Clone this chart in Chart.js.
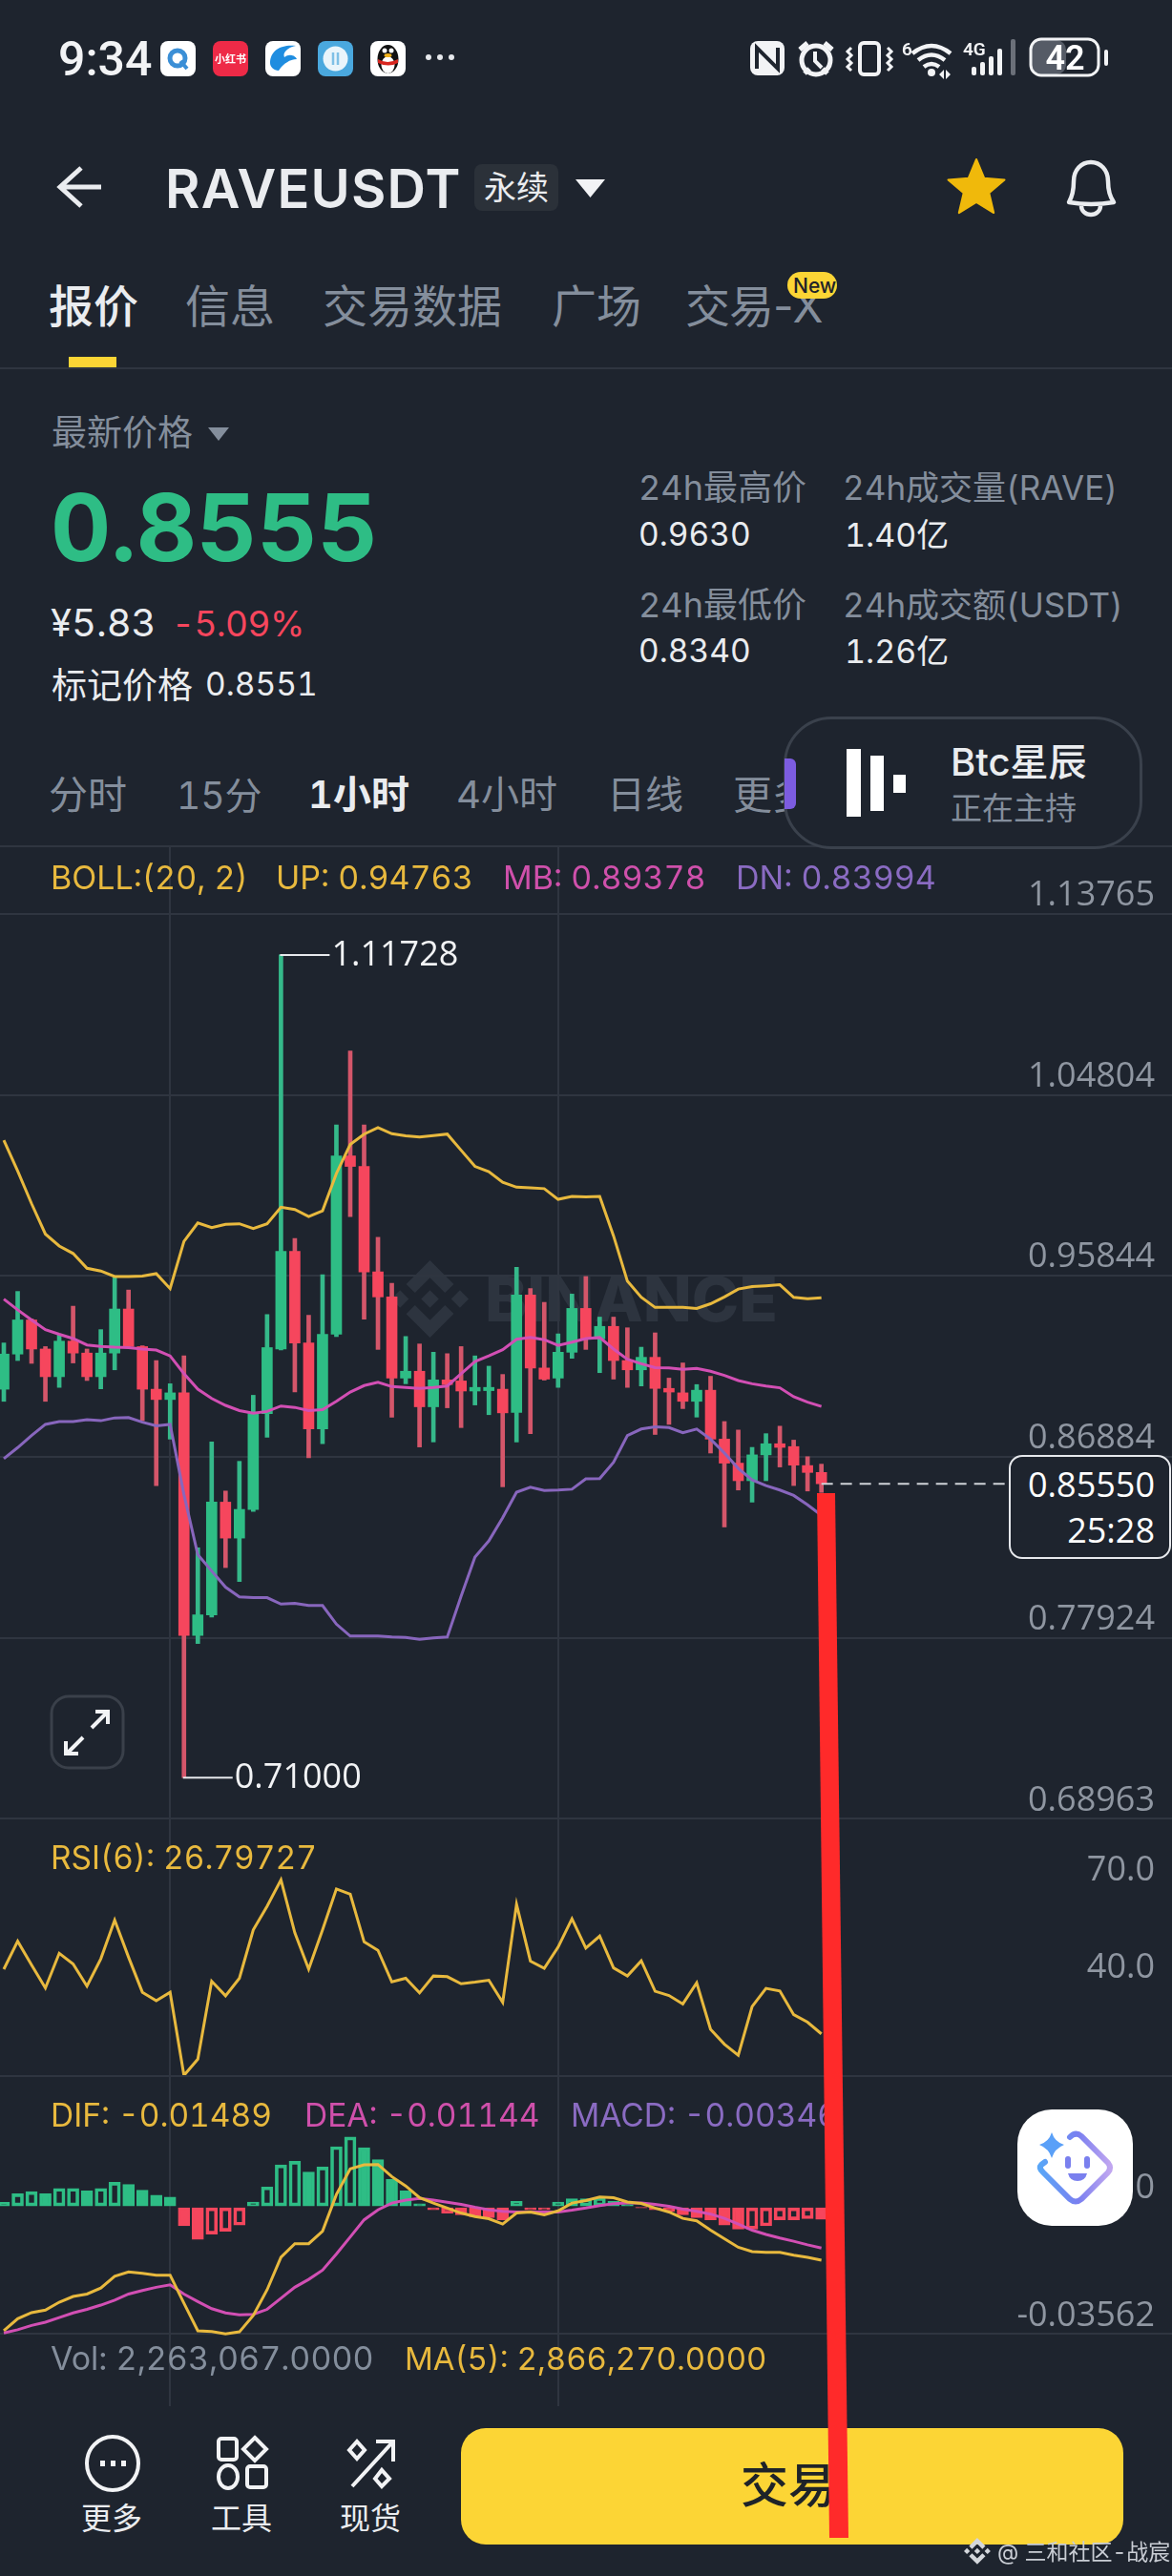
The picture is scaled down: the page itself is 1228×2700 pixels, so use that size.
<!DOCTYPE html>
<html lang="zh">
<head>
<meta charset="utf-8">
<title>RAVEUSDT</title>
<script src="https://cdn.jsdelivr.net/npm/chart.js@4"></script>
<style>
html,body{margin:0;padding:0;background:#1e242e;}
body{position:relative;width:1228px;height:2700px;overflow:hidden;font-family:Inter,"Noto Sans CJK SC",sans-serif;color:#eaecef;font-variant-numeric:tabular-nums;}
canvas{position:absolute;left:0;z-index:2;}
.t{position:absolute;white-space:nowrap;line-height:1;transform:translateY(-50%);z-index:3;}
.g{color:#848e9c;}
.box{position:absolute;z-index:3;box-sizing:border-box;}
svg{position:absolute;left:0;top:0;}
.tag{font-family:"Open Sans";font-size:36px;}
</style>
</head>
<body>
<svg id="under" width="1228" height="2700" style="z-index:1">
  <g fill="#2d343f" transform="translate(410 1321) scale(0.64)">
    <path d="M38.73 53.2L63.3 28.63 87.89 53.22 102.19 38.92 63.3 0 24.42 38.9z"/>
    <path d="M0 63.31L14.3 49.01 28.6 63.31 14.3 77.61z"/>
    <path d="M38.73 73.41L63.3 97.98 87.89 73.39 102.2 87.68 63.3 126.61 24.42 87.7z"/>
    <path d="M98.01 63.31L112.31 49.01 126.61 63.31 112.31 77.61z"/>
    <path d="M77.83 63.3L63.3 48.78 48.78 63.3 63.3 77.83z"/>
  </g>
  <text x="508" y="1385" font-family="Inter" font-weight="800" font-size="65" fill="#2d343f" textLength="307" lengthAdjust="spacingAndGlyphs">BINANCE</text>
  <line x1="0" x2="1228" y1="386" y2="386" stroke="#2f3540" stroke-width="2"/>
  <line x1="0" x2="1228" y1="887" y2="887" stroke="#2f3540" stroke-width="2"/>
</svg>

<!-- status bar -->
<div class="t" style="left:61px;top:62px;font:500 50px Roboto;color:#f2f3f5;">9:34</div>
<!-- nav -->
<div class="t" style="left:173px;top:198px;font-size:56px;font-weight:600;letter-spacing:1.2px;">RAVEUSDT</div>
<div class="box" style="left:497px;top:172px;width:88px;height:49px;background:#2b3139;border-radius:8px;"></div>
<div class="t" style="left:507px;top:197px;font-size:34px;">永续</div>
<!-- tabs -->
<div class="t" style="left:51px;top:320px;font-size:47px;font-weight:500;">报价</div>
<div class="t g" style="left:194px;top:320px;font-size:47px;">信息</div>
<div class="t g" style="left:338px;top:320px;font-size:47px;">交易数据</div>
<div class="t g" style="left:578px;top:320px;font-size:47px;">广场</div>
<div class="t g" style="left:718px;top:320px;font-size:47px;font-variant-numeric:normal;letter-spacing:-1px;">交易-X</div>
<div class="box" style="left:825px;top:285px;width:52px;height:28px;background:#fcd535;border-radius:14px;"></div>
<div class="t" style="left:831px;top:299px;font-size:21px;font-weight:500;color:#1e2329;">New</div>
<div class="box" style="left:72px;top:374px;width:50px;height:11px;background:#fcd535;"></div>
<!-- price block -->
<div class="t g" style="left:54px;top:453px;font-size:37px;">最新价格</div>
<div class="t" style="left:53px;top:553px;font-size:98px;font-weight:700;color:#2ebd85;">0.8555</div>
<div class="t" style="left:53px;top:653px;font-size:40px;">¥5.83</div>
<div class="t" style="left:180px;top:653px;font-size:37px;letter-spacing:-0.6px;color:#f6465d;">-5.09%</div>
<div class="t" style="left:54px;top:718px;font-size:37px;">标记价格</div>
<div class="t" style="left:215px;top:718px;font-size:33.500px;">0.8551</div>
<div class="t g" style="left:669px;top:511px;font-size:36px;">24h最高价</div>
<div class="t" style="left:669px;top:561px;font-size:33.500px;">0.9630</div>
<div class="t g" style="left:883px;top:511px;font-size:35px;">24h成交量(RAVE)</div>
<div class="t" style="left:885px;top:561px;font-size:34px;">1.40亿</div>
<div class="t g" style="left:669px;top:634px;font-size:36px;">24h最低价</div>
<div class="t" style="left:669px;top:683px;font-size:33.500px;">0.8340</div>
<div class="t g" style="left:883px;top:634px;font-size:35px;">24h成交额(USDT)</div>
<div class="t" style="left:885px;top:683px;font-size:34px;">1.26亿</div>
<!-- interval tabs -->
<div class="t g" style="left:51px;top:833px;font-size:41px;">分时</div>
<div class="t g" style="left:185px;top:833px;font-size:39px;">15分</div>
<div class="t" style="left:323px;top:833px;font-size:40px;font-weight:600;">1小时</div>
<div class="t g" style="left:478px;top:833px;font-size:40px;">4小时</div>
<div class="t g" style="left:636px;top:833px;font-size:40px;">日线</div>
<div class="t g" style="left:768px;top:833px;font-size:41px;">更多</div>
<!-- floating host card -->
<div class="box" style="left:821px;top:751px;width:376px;height:139px;background:#1e242e;border:3px solid #3a414c;border-radius:50px;z-index:4;"></div>
<div class="box" style="left:822px;top:795px;width:12px;height:53px;background:#7c5ce0;border-radius:0 6px 6px 0;z-index:5;"></div>
<div class="box" style="left:887px;top:785px;width:15px;height:71px;background:#fff;z-index:5;"></div>
<div class="box" style="left:912px;top:792px;width:14px;height:58px;background:#fff;z-index:5;"></div>
<div class="box" style="left:936px;top:812px;width:13px;height:19px;background:#fff;z-index:5;"></div>
<div class="t" style="left:996px;top:799px;font-size:40px;font-weight:500;z-index:5;">Btc星辰</div>
<div class="t g" style="left:996px;top:847px;font-size:33px;z-index:5;">正在主持</div>
<!-- legends -->
<div class="t" style="left:53px;top:920px;font-size:34px;color:#e8b93e;">BOLL:(20, 2)</div>
<div class="t" style="left:289px;top:920px;font-size:34px;color:#e8b93e;">UP: 0.94763</div>
<div class="t" style="left:527px;top:920px;font-size:34px;color:#cf50ab;">MB: 0.89378</div>
<div class="t" style="left:771px;top:920px;font-size:34px;color:#8a6bc2;">DN: 0.83994</div>
<div class="t" style="left:53px;top:1948px;font-size:33.500px;color:#e8b93e;">RSI(6): 26.79727</div>
<div class="t" style="left:53px;top:2218px;font-size:33.500px;color:#e8b93e;">DIF: -0.01489</div>
<div class="t" style="left:319px;top:2218px;font-size:33.500px;color:#cf50ab;">DEA: -0.01144</div>
<div class="t" style="left:598px;top:2218px;font-size:33.500px;color:#8a6bc2;">MACD: -0.00346</div>
<div class="t g" style="left:53px;top:2472px;font-size:34px;">Vol: 2,263,067.0000</div>
<div class="t" style="left:424px;top:2472px;font-size:33px;color:#e8b93e;">MA(5): 2,866,270.0000</div>
<!-- price tag -->
<div class="box" style="left:1057px;top:1525px;width:170px;height:109px;background:#1e242e;border:2px solid #e6e8ec;border-radius:14px;z-index:4;"></div>
<div class="t tag" style="right:18px;top:1556px;color:#fff;z-index:5;">0.85550</div>
<div class="t tag" style="right:18px;top:1604px;color:#fff;z-index:5;">25:28</div>
<!-- bottom bar -->
<div class="t" style="left:85px;top:2640px;font-size:32px;">更多</div>
<div class="t" style="left:221px;top:2640px;font-size:32px;">工具</div>
<div class="t" style="left:356px;top:2640px;font-size:32px;">现货</div>
<div class="box" style="left:483px;top:2545px;width:694px;height:122px;background:#fcd535;border-radius:26px;"></div>
<div class="t" style="left:776px;top:2605px;font-size:50px;font-weight:500;color:#1e2329;">交易</div>
<div class="t" style="left:1045px;top:2675px;font-size:23px;color:#c9cdd4;z-index:7;">@ 三和社区-战宸</div>

<canvas id="mainPane" width="1228" height="1024" style="top:888px;width:1228px;height:1024px;"></canvas>
<canvas id="rsiPane" width="1228" height="270" style="top:1906px;width:1228px;height:270px;"></canvas>
<canvas id="macdPane" width="1228" height="352" style="top:2170px;width:1228px;height:352px;"></canvas>

<svg id="over" width="1228" height="2700" style="z-index:6">
  <defs>
    <linearGradient id="ai" x1="0" y1="0.5" x2="1" y2="0.5"><stop offset="0" stop-color="#5aa6f7"/><stop offset="0.55" stop-color="#7a7ff0"/><stop offset="1" stop-color="#c0a6f0"/></linearGradient>
  </defs>
  <!-- status app icons -->
  <rect x="168" y="43" width="37" height="37" rx="8" fill="#fff"/>
  <circle cx="186" cy="61" r="8" fill="none" stroke="#3b8fd6" stroke-width="5"/><path d="M189 64l7 8" stroke="#3b8fd6" stroke-width="4"/>
  <rect x="223" y="43" width="37" height="37" rx="8" fill="#ee2a47"/>
  <text x="241.5" y="66" text-anchor="middle" font-size="11" font-weight="700" fill="#fff" font-family="Noto Sans CJK SC">小红书</text>
  <rect x="278" y="43" width="37" height="37" rx="8" fill="#fff"/>
  <path d="M283 66C283 52 296 46 310 48C300 50 296 56 298 60C303 56 309 58 311 62C303 62 296 68 292 74C287 74 283 70 283 66Z" fill="#1f8de0"/>
  <rect x="333" y="43" width="37" height="37" rx="8" fill="#4aa8de"/>
  <circle cx="351.500" cy="61.500" r="13" fill="#eaf5fb"/>
  <path d="M349 55v13M354 55v13" stroke="#7fc0e6" stroke-width="2.500"/>
  <rect x="388" y="43" width="37" height="37" rx="8" fill="#fff"/>
  <ellipse cx="406.500" cy="62" rx="11" ry="15" fill="#111"/>
  <ellipse cx="406.500" cy="68" rx="7" ry="9" fill="#fff"/>
  <path d="M396 62q10 6 21 0l0 4q-10 5 -21 0z" fill="#d8261f"/>
  <circle cx="403" cy="53" r="2.500" fill="#fff"/><circle cx="410" cy="53" r="2.500" fill="#fff"/>
  <ellipse cx="406.500" cy="58" rx="4" ry="2" fill="#f3b21a"/>
  <circle cx="449" cy="60" r="3" fill="#e6e8ec"/><circle cx="461" cy="60" r="3" fill="#e6e8ec"/><circle cx="473" cy="60" r="3" fill="#e6e8ec"/>
  <!-- status right -->
  <rect x="786" y="43" width="36" height="36" rx="8" fill="#f2f3f5"/>
  <path d="M793 72V50L815 72V50" fill="none" stroke="#1e242e" stroke-width="4"/>
  <circle cx="855" cy="63" r="15" fill="none" stroke="#f2f3f5" stroke-width="5"/>
  <path d="M854 54v10l7 7" fill="none" stroke="#f2f3f5" stroke-width="4"/>
  <path d="M838 52l8-7M872 52l-8-7M843 77l5-5M867 77l-5-5" stroke="#f2f3f5" stroke-width="5"/>
  <rect x="901" y="45" width="20" height="33" rx="4" fill="none" stroke="#f2f3f5" stroke-width="4"/>
  <path d="M892 50l-4 4 4 4 -4 4 4 4 -4 4 4 4M930 50l4 4 -4 4 4 4 -4 4 4 4 -4 4" fill="none" stroke="#f2f3f5" stroke-width="3"/>
  <text x="945" y="58" font-size="19" font-weight="600" fill="#f2f3f5" font-family="Roboto">6</text>
  <path d="M956 56q20-16 40 0M962 63q14-11 28 0M968 70q8-6 16 0" fill="none" stroke="#f2f3f5" stroke-width="4.500"/>
  <circle cx="976" cy="76" r="4" fill="#f2f3f5"/><path d="M984 78l5-5v10zM991 73l5 5-5 5z" fill="#f2f3f5"/>
  <text x="1009" y="58" font-size="19" font-weight="600" fill="#f2f3f5" font-family="Roboto">4G</text>
  <rect x="1018" y="70" width="5" height="9" rx="2" fill="#f2f3f5"/><rect x="1027" y="65" width="5" height="14" rx="2" fill="#f2f3f5"/><rect x="1036" y="59" width="5" height="20" rx="2" fill="#f2f3f5"/><rect x="1045" y="51" width="5" height="28" rx="2" fill="#f2f3f5"/><rect x="1059" y="41" width="5" height="38" rx="2" fill="#6b7079"/>
  <rect x="1081" y="42" width="36" height="36" rx="10" fill="#555b66"/>
  <rect x="1080" y="41" width="71" height="38" rx="11" fill="none" stroke="#f2f3f5" stroke-width="3"/>
  <text x="1116" y="73" text-anchor="middle" font-size="36" font-weight="600" fill="#fff" font-family="Roboto">42</text>
  <rect x="1157" y="52" width="4" height="17" rx="2" fill="#f2f3f5"/>
  <!-- nav icons -->
  <path d="M106 196H65M85 176L63 196L85 216" fill="none" stroke="#eaecef" stroke-width="5"/>
  <path d="M603 188H634L618.500 207Z" fill="#f2f3f5"/>
  <polygon points="1023,167 1031.200,186.700 1052.500,188.400 1036.300,202.300 1041.200,223.100 1023,212 1004.800,223.100 1009.700,202.300 993.500,188.400 1014.800,186.700" fill="#f0b90b" stroke="#f0b90b" stroke-width="2" stroke-linejoin="round"/>
  <path d="M1120 212C1124 205 1125 198 1125 190C1125 178 1133 170 1143 170C1153 170 1161 178 1161 190C1161 198 1162 205 1167 212Q1143 216 1120 212ZM1133 216A10 9 0 0 0 1153 216" fill="none" stroke="#eaecef" stroke-width="4.500" stroke-linejoin="round"/>
  <path d="M218 448H240L229 462Z" fill="#848e9c"/>
  <!-- expand -->
  <rect x="54" y="1778" width="75" height="75" rx="18" fill="none" stroke="#3a404a" stroke-width="3"/>
  <path d="M96 1811L112 1795M100 1794H113V1807M87 1821L70 1838M69 1825V1838H82" fill="none" stroke="#f2f3f5" stroke-width="4"/>
  <!-- assistant sticker -->
  <rect x="1066" y="2211" width="121" height="122" rx="36" fill="#fff"/>
  <path d="M1121 2240Q1127 2234 1133 2239L1161 2267Q1165 2272 1161 2277L1133 2305Q1127 2310 1121 2305L1093 2277Q1088 2272 1091 2269L1095 2266" fill="none" stroke="url(#ai)" stroke-width="6" stroke-linecap="round"/>
  <path d="M1102 2235Q1105 2245 1115 2248Q1105 2252 1102 2262Q1099 2252 1089 2248Q1099 2245 1102 2235Z" fill="#5aa0f8"/>
  <rect x="1116" y="2260" width="6" height="13" rx="3" fill="#7a80ee"/><rect x="1136" y="2260" width="6" height="13" rx="3" fill="#7a80ee"/>
  <path d="M1119 2278H1139Q1137 2286 1129 2286Q1121 2286 1119 2278Z" fill="#7a80ee"/>
  <!-- bottom icons -->
  <ellipse cx="118" cy="2582" rx="27" ry="28" fill="none" stroke="#f2f3f5" stroke-width="4"/>
  <rect x="105" y="2579" width="5" height="6" fill="#f2f3f5"/><rect x="116" y="2579" width="5" height="6" fill="#f2f3f5"/><rect x="127" y="2579" width="5" height="6" fill="#f2f3f5"/>
  <g fill="none" stroke="#f2f3f5" stroke-width="4">
    <rect x="229" y="2556" width="19" height="22" rx="3"/>
    <path d="M267 2555L279 2567L267 2579L255 2567Z"/>
    <ellipse cx="239" cy="2596" rx="10" ry="12"/>
    <rect x="259" y="2585" width="20" height="22" rx="3"/>
    <path d="M366 2568L374 2559L382 2568L374 2577ZM393 2598L400 2589L408 2598L400 2606Z"/>
    <path d="M369 2606L412 2559M394 2559H412V2580"/>
  </g>
  <!-- small watermark logo -->
  <g fill="#d4d7dc" transform="translate(1010 2660) scale(0.22)">
    <path d="M38.73 53.2L63.3 28.63 87.89 53.22 102.19 38.92 63.3 0 24.42 38.9z"/>
    <path d="M0 63.31L14.3 49.01 28.6 63.31 14.3 77.61z"/>
    <path d="M38.73 73.41L63.3 97.98 87.89 73.39 102.2 87.68 63.3 126.61 24.42 87.7z"/>
    <path d="M98.01 63.31L112.31 49.01 126.61 63.31 112.31 77.61z"/>
    <path d="M77.83 63.3L63.3 48.78 48.78 63.3 63.3 77.83z"/>
  </g>
  <!-- hand drawn red stroke -->
  <polygon points="856,1565 875,1565 889,2660 869,2660" fill="#ff2a2a"/>
</svg>

<script>
const candleIndex = Array.from({length:60},(_,i)=>i);
const opens  = [.9023,.9197,.9366,.9222,.9085,.9261,.9202,.9085,.9202,.9420,.9234,.9023,.8972,.9005,.7804,.7906,.8464,.8286,.8428,.8902,.9222,.9705,.9252,.8826,.9295,1.0178,1.0126,.9604,.9480,.9078,.9112,.8936,.9069,.9064,.9014,.9016,.9023,.8908,.9489,.9128,.9078,.9206,.9423,.9272,.9334,.9165,.9119,.9181,.9027,.9005,.8963,.9018,.8776,.8657,.8570,.8698,.8753,.8739,.8645,.8611];
const highs  = [.9252,.9507,.9371,.9234,.9291,.9434,.9222,.9318,.9576,.9514,.9238,.9165,.9050,.9188,.8238,.8762,.8519,.8666,.8993,.9393,1.1173,.9769,.9389,.9590,1.0331,1.0697,1.0331,.9775,.9547,.9284,.9247,.9206,.9199,.9234,.9188,.9137,.9096,.9627,.9521,.9453,.9297,.9494,.9581,.9380,.9380,.9327,.9231,.9302,.9078,.9153,.9046,.9087,.8863,.8821,.8735,.8803,.8840,.8771,.8689,.8652];
const lows   = [.8963,.9165,.9151,.8963,.9032,.9153,.9066,.9025,.9119,.9234,.8867,.8546,.8776,.7100,.7764,.7895,.8140,.8071,.8418,.8785,.9217,.9010,.8684,.8753,.9284,.9878,.9370,.9220,.8885,.9050,.8737,.8762,.8931,.8833,.8945,.8897,.8540,.8762,.8803,.9068,.9032,.9176,.9220,.9105,.9073,.9032,.9039,.8799,.8849,.8927,.8885,.8707,.8341,.8524,.8464,.8570,.8638,.8546,.8519,.8512];
const closes = [.9197,.9366,.9222,.9085,.9261,.9202,.9085,.9202,.9420,.9234,.9023,.8972,.9005,.7804,.7906,.8464,.8286,.8428,.8902,.9229,.9705,.9252,.8826,.9295,1.0178,1.0126,.9604,.9480,.9078,.9112,.8936,.9069,.9046,.9014,.9032,.9032,.8906,.9489,.9128,.9073,.9206,.9423,.9272,.9334,.9165,.9119,.9181,.9027,.9009,.8963,.9018,.8776,.8657,.8570,.8698,.8753,.8735,.8647,.8611,.8555];
const bollUp  = [1.0256,1.0103,.9942,.9791,.9732,.9695,.9622,.9608,.9581,.9581,.9583,.9595,.9521,.9755,.9846,.9823,.9839,.9842,.9819,.9842,.9924,.9913,.9878,.9906,1.0091,1.0235,1.0286,1.0318,1.0288,1.0277,1.0272,1.0279,1.0286,1.0206,1.0126,1.0100,1.0048,1.0023,1.0020,1.0016,.9963,.9977,.9975,.9977,.9782,.9558,.9478,.9428,.9428,.9428,.9423,.9446,.9480,.9519,.9531,.9535,.9540,.9478,.9471,.9476];
const bollMid = [.9469,.9416,.9366,.9318,.9295,.9274,.9242,.9235,.9231,.9229,.9222,.9217,.9188,.9100,.9023,.8977,.8943,.8917,.8904,.8913,.8940,.8933,.8917,.8922,.8963,.9009,.9041,.9057,.9036,.9032,.9027,.9032,.9039,.9100,.9160,.9188,.9219,.9270,.9279,.9268,.9240,.9256,.9274,.9279,.9222,.9171,.9149,.9130,.9128,.9121,.9126,.9112,.9091,.9066,.9050,.9039,.9030,.8986,.8959,.8938];
const bollDn  = [.8679,.8734,.8794,.8849,.8863,.8863,.8872,.8867,.8881,.8883,.8860,.8842,.8849,.8501,.8204,.8123,.8043,.7995,.7991,.7991,.7959,.7963,.7952,.7952,.7860,.7801,.7801,.7801,.7796,.7794,.7785,.7792,.7796,.7998,.8192,.8272,.8387,.8513,.8538,.8522,.8524,.8528,.8579,.8581,.8661,.8794,.8826,.8837,.8833,.8808,.8826,.8776,.8707,.8631,.8574,.8546,.8524,.8497,.8451,.8399];
const rsi6 = [46.7,55.3,48.0,40.9,51.6,48.3,41.5,49.9,61.8,50.4,39.6,37.0,39.6,14.0,19.0,43.0,38.5,43.9,58.8,66.1,74.2,57.9,46.7,58.8,71.4,69.8,55.1,52.5,42.8,43.9,39.4,44.6,44.4,42.2,42.7,43.3,36.5,66.7,49.2,47.0,53.5,62.2,53.2,56.9,47.1,44.6,49.3,39.9,38.6,36.0,42.5,28.2,23.6,20.2,35.2,40.8,40.0,32.7,30.4,26.8];
const dif = [-.0347,-.0313,-.0296,-.0289,-.0267,-.0251,-.0244,-.0227,-.0194,-.0182,-.0186,-.0191,-.0191,-.0270,-.0347,-.0349,-.0356,-.0350,-.0304,-.0232,-.0141,-.0103,-.0103,-.0068,.0035,.0107,.0118,.0119,.0085,.0059,.0026,.0011,-.0003,-.0017,-.0027,-.0033,-.0048,-.0017,-.0014,-.0022,-.0011,.0011,.0018,.0028,.0026,.0014,.0010,-.0003,-.0014,-.0032,-.0039,-.0065,-.0089,-.0113,-.0125,-.0127,-.0127,-.0135,-.0141,-.0149];
const dea = [-.0353,-.0344,-.0332,-.0323,-.0310,-.0297,-.0287,-.0275,-.0261,-.0244,-.0234,-.0225,-.0218,-.0244,-.0265,-.0285,-.0297,-.0302,-.0301,-.0287,-.0256,-.0225,-.0203,-.0177,-.0132,-.0084,-.0036,-.0008,.0011,.0019,.0024,.0019,.0013,.0007,-.0001,-.0008,-.0012,-.0014,-.0014,-.0014,-.0014,-.0009,-.0003,.0004,.0009,.0011,.0011,.0007,.0002,-.0006,-.0012,-.0020,-.0032,-.0048,-.0065,-.0077,-.0087,-.0096,-.0106,-.0115];
const macdHist = [.0013,.0037,.0043,.0037,.0052,.0052,.0045,.0052,.0069,.0063,.0047,.0033,.0028,-.0053,-.0091,-.0076,-.0068,-.0051,.0014,.0056,.0118,.0128,.0098,.0112,.0169,.0196,.0166,.0133,.0078,.0045,.0009,-.0008,-.0017,-.0022,-.0027,-.0030,-.0036,.0016,-.0008,-.0008,.0014,.0023,.0023,.0026,.0016,.0007,-.0001,-.0008,-.0012,-.0022,-.0030,-.0036,-.0051,-.0062,-.0062,-.0053,-.0036,-.0036,-.0033,-.0035];
const priceTicks = [1.13765,1.04804,.95844,.86884,.77924,.68963];
const rsiTicks = [70,40];
const macdTicks = [.03668,0,-.03562];
const timeTicks = [12,40];
const lastPrice = .8555;

const UP='#2ebd85', DOWN='#f6465d', UPW='#35b98a', DOWNW='#d4566a';
const GRID='#2f3540', LABEL='#8f96a1';
const YELLOW='#e8b93e', PINK='#d24fb4', PURPLE='#8866bd';
Chart.defaults.font.family='"Open Sans", "Noto Sans CJK SC", sans-serif';

const xScale = () => ({
  type:'linear', min:-0.2755, max:84.3, offset:false,
  border:{display:false},
  grid:{color:GRID,lineWidth:2,drawTicks:false,offset:false},
  ticks:{display:false},
  afterBuildTicks:s=>{s.ticks=timeTicks.map(v=>({value:v}));}
});
const yScale = (min,max,tickVals,fmt,lh,hideGrid) => ({
  type:'linear', position:'right', min, max,
  border:{display:false},
  grid:{drawTicks:false,lineWidth:2,color:c=>hideGrid(c.tick&&c.tick.value)?'rgba(0,0,0,0)':GRID},
  ticks:{mirror:true,padding:-18,color:LABEL,font:{size:36,lineHeight:lh/36},callback:v=>[fmt(v),' ']},
  afterBuildTicks:s=>{s.ticks=tickVals.map(v=>({value:v}));},
  afterFit:s=>{s.width=0;s.paddingTop=0;s.paddingBottom=0;s.paddingLeft=0;s.paddingRight=0;}
});
const line=(data,color,w=3)=>({type:'line',data:data.map((y,i)=>({x:candleIndex[i],y})),borderColor:color,borderWidth:w,pointRadius:0,tension:0,order:0,fill:false});
const base={responsive:false,animation:false,devicePixelRatio:1,events:[],layout:{padding:0},
  plugins:{legend:{display:false},tooltip:{enabled:false}}};

const extremes={id:'extremes',afterDatasetsDraw(chart){
  const {ctx,scales:{x,y}}=chart;
  const hi=highs.indexOf(Math.max(...highs)), lo=lows.indexOf(Math.min(...lows));
  [[hi,'1.11728',highs[hi]],[lo,'0.71000',lows[lo]]].forEach(([i,txt,v])=>{
    const px=x.getPixelForValue(i), py=y.getPixelForValue(v);
    ctx.save();ctx.strokeStyle='#e6e8ec';ctx.lineWidth=2;
    ctx.beginPath();ctx.moveTo(px-1,py);ctx.lineTo(px+51,py);ctx.stroke();
    ctx.fillStyle='#f2f3f5';ctx.font='36px "Open Sans"';ctx.textBaseline='middle';ctx.fillText(txt,px+53,py+1);ctx.restore();
  });
}};

const hue=i=>closes[i]>=opens[i];
new Chart(document.getElementById('mainPane'),{
  plugins:[extremes],
  data:{datasets:[
    line(bollUp,YELLOW),line(bollMid,PINK),line(bollDn,PURPLE),
    {type:'line',data:[{x:59,y:lastPrice},{x:72.45,y:lastPrice}],borderColor:'#cfd2d8',borderWidth:2,borderDash:[12,8],pointRadius:0,order:0},
    {type:'bar',grouped:false,barThickness:4,order:2,
     data:candleIndex.map(i=>({x:i,y:[lows[i],highs[i]]})),backgroundColor:candleIndex.map(i=>hue(i)?UPW:DOWNW)},
    {type:'bar',grouped:false,barThickness:11,order:1,
     data:candleIndex.map(i=>({x:i,y:[Math.min(opens[i],closes[i]),Math.max(opens[i],closes[i])]})),backgroundColor:candleIndex.map(i=>hue(i)?UP:DOWN)}
  ]},
  options:{...base,scales:{x:xScale(),y:yScale(.68696,1.17062,priceTicks,v=>v.toFixed(5),38,()=>false)}}
});
new Chart(document.getElementById('rsiPane'),{
  data:{datasets:[line(rsi6,YELLOW)]},
  options:{...base,scales:{x:xScale(),y:yScale(13.8,93.1,rsiTicks,v=>v.toFixed(1),48,()=>true)}}
});
const rising=i=>i>0&&macdHist[i]>=macdHist[i-1];
new Chart(document.getElementById('macdPane'),{
  data:{datasets:[
    line(dif,YELLOW),line(dea,PINK),
    {type:'bar',grouped:false,barThickness:12,order:1,borderSkipped:false,borderWidth:3,
     data:candleIndex.map(i=>({x:i,y:macdHist[i]})),
     borderColor:macdHist.map(v=>v>=0?UP:DOWN),
     backgroundColor:macdHist.map((v,i)=>rising(i)?'rgba(0,0,0,0)':(v>=0?UP:DOWN))}
  ]},
  options:{...base,scales:{x:xScale(),y:yScale(-.05583,.03829,macdTicks,v=>v===0?'0':(v>0?'':v.toFixed(5)),38,v=>v===0)}}
});
</script>
</body>
</html>
